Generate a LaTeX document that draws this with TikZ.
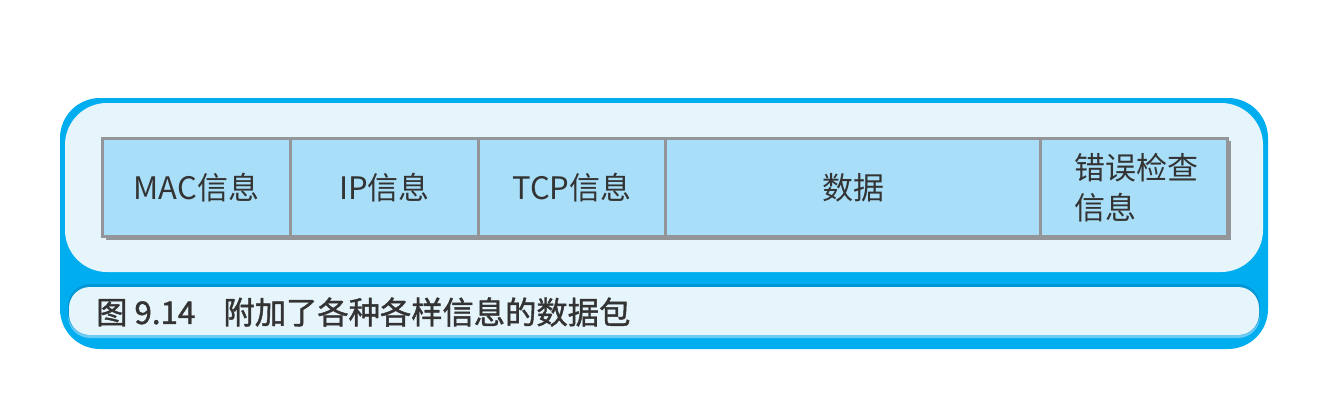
\documentclass[tikz,border=0pt]{standalone}
\usepackage{fontspec}
\setmainfont{Noto Sans CJK SC}
\newfontfamily\cjk{Noto Sans CJK SC}
\newfontfamily\cjkm{Noto Sans CJK SC}[FakeBold=1.3]
\definecolor{outerblue}{HTML}{00AEEF}
\definecolor{panel}{HTML}{E6F5FC}
\definecolor{cellfill}{HTML}{A8DEF7}
\definecolor{cellline}{HTML}{939598}
\definecolor{txt}{HTML}{333333}
\definecolor{capedge}{HTML}{0096D6}
\definecolor{caplow}{HTML}{6CCBF2}
\begin{document}
\begin{tikzpicture}[x=1pt,y=-1pt,
  cell/.style={draw=cellline,line width=3pt,fill=cellfill,minimum height=98pt,inner sep=0pt,anchor=north west,font=\cjk\fontsize{31}{40}\selectfont,text=txt},
  caption/.style={font=\cjkm\fontsize{31.3}{36}\selectfont,text=txt,anchor=west,inner sep=0pt}]
\useasboundingbox (0,0) rectangle (1328,420);
% outer blue frame
\fill[outerblue,rounded corners=40pt] (60,98) rectangle (1268,349);
% upper panel
\fill[panel,rounded corners=42pt] (65,103) rectangle (1263,272);
% caption panel
\fill[caplow,rounded corners=22pt] (68,286) rectangle (1260,338);
\fill[capedge,rounded corners=22pt] (68,284) rectangle (1260,335);
\fill[panel,rounded corners=21pt] (69,287) rectangle (1259,335);
% shadow
\fill[cellline] (106,141) rectangle (1231,240);
% cells
\node[cell,minimum width=188pt] (mac) at (101,137) {MAC信息};
\node[cell,minimum width=188pt] (ip) at (289,137) {IP信息};
\node[cell,minimum width=187pt] (tcp) at (477,137) {TCP信息};
\node[cell,minimum width=375pt] (data) at (664,137) {数据};
\node[cell,minimum width=187pt] (err) at (1039,137) {};
\node[font=\cjk\fontsize{31}{40}\selectfont,text=txt,anchor=west,align=left,inner sep=0pt] (errtxt) at (1074,188) {错误检查\\信息};
% caption
\node[caption] (cap) at (96,312) {图 9.14\hspace{0.9em}附加了各种各样信息的数据包};
\end{tikzpicture}
\end{document}
